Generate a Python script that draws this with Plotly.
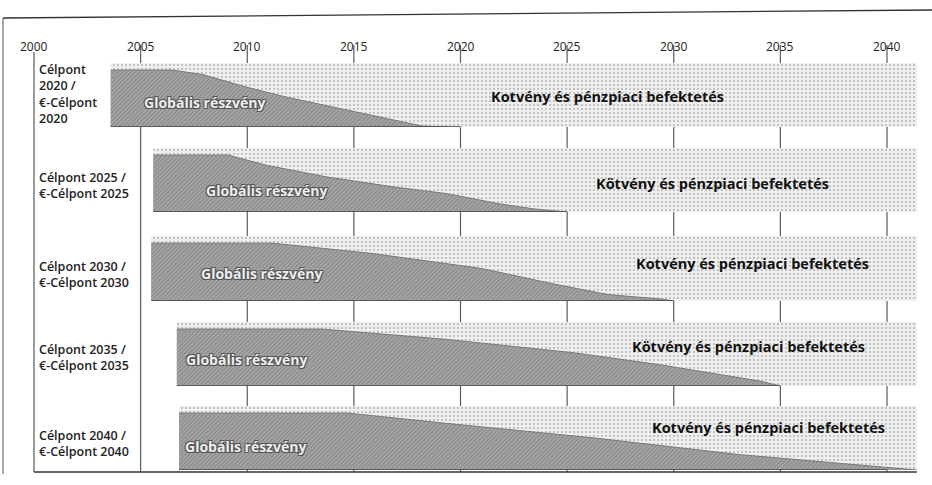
import plotly.graph_objects as go

# ---------------------------------------------------------------- data
axis_years = [2000, 2005, 2010, 2015, 2020, 2025, 2030, 2035, 2040]

target_years = [2020, 2025, 2030, 2035, 2040]
fund_labels = [
    "Célpont<br>2020 /<br>€-Célpont<br>2020",
    "Célpont 2025 /<br>€-Célpont 2025",
    "Célpont 2030 /<br>€-Célpont 2030",
    "Célpont 2035 /<br>€-Célpont 2035",
    "Célpont 2040 /<br>€-Célpont 2040",
]
start_years = [2003.6, 2005.6, 2005.5, 2006.7, 2006.8]
horizon_end = 2041.4

# equity share (%) of each fund along its glide path
glide_years_2020 = [2003.6, 2006.5, 2007.9, 2010.0, 2011.8, 2014.2, 2016.6, 2018.2, 2019.5]
glide_equity_2020 = [89, 89, 82, 62, 47, 30, 12, 1.5, 0]
glide_years_2025 = [2005.6, 2009.1, 2010.9, 2013.7, 2016.9, 2019.3, 2021.8, 2023.4, 2025.0]
glide_equity_2025 = [89, 89, 73, 55, 39, 29, 13, 5, 0]
glide_years_2030 = [2005.5, 2011.2, 2015.9, 2021.0, 2024.4, 2026.9, 2029.4, 2030.0]
glide_equity_2030 = [89, 89, 73, 50, 26, 10, 3, 0]
glide_years_2035 = [2006.7, 2013.5, 2019.3, 2025.3, 2029.2, 2032.1, 2034.0, 2035.0]
glide_equity_2035 = [89, 89, 73, 52, 34, 18, 8, 0]
glide_years_2040 = [2006.8, 2014.7, 2019.3, 2026.3, 2033.1, 2037.9, 2040.2, 2041.4]
glide_equity_2040 = [89, 89, 73, 50, 24, 10, 4, 0]

glide_years = [glide_years_2020, glide_years_2025, glide_years_2030,
               glide_years_2035, glide_years_2040]
glide_equity = [glide_equity_2020, glide_equity_2025, glide_equity_2030,
                glide_equity_2035, glide_equity_2040]

equity_text = "Globális részvény"
bond_texts = [
    "Kotvény és pénzpiaci befektetés",
    "Kötvény és pénzpiaci befektetés",
    "Kotvény és pénzpiaci befektetés",
    "Kötvény és pénzpiaci befektetés",
    "Kotvény és pénzpiaci befektetés",
]

# ---------------------------------------------------------------- layout constants
W, H = 932, 485
X_RANGE = [1998.406, 2042.11]          # year axis spanning the full width
BAND_PX = [(63, 127), (148, 212), (236, 301), (322, 386), (406, 470)]
LABEL_CENTER_PX = [94, 186, 274, 357, 443]
EQ_LABEL_POS = [(2008.0, 38), (2010.9, 34), (2010.65, 43), (2009.96, 42), (2009.9, 37)]
BOND_LABEL_POS = [(2026.9, 47), (2031.8, 44), (2033.7, 58), (2033.5, 61), (2034.45, 66)]
GRID_BOTTOM_PX = 472

FONT = "Open Sans"
INK = "#222222"
GRID = "#5a5a5a"


def py(px):
    """pixel row -> paper fraction"""
    return 1 - px / H


def pxx(px):
    return px / W


fig = go.Figure()
layout_axes = {}
annotations = []
shapes = []

# year gridlines: drawn only in the open space between the bands
for yr in axis_years:
    top = 52 if yr == axis_years[0] else 45
    covered = sorted((t, b) for (t, b), s in zip(BAND_PX, start_years)
                     if s <= yr <= horizon_end)
    segments, cur = [], top
    for t, b in covered:
        if t > cur:
            segments.append((cur, t))
        cur = max(cur, b)
    if cur < GRID_BOTTOM_PX:
        segments.append((cur, GRID_BOTTOM_PX))
    for a, b in segments:
        shapes.append(dict(
            type="line", xref="x", yref="paper", x0=yr, x1=yr,
            y0=py(b), y1=py(a), line=dict(color=GRID, width=1.2),
        ))
    annotations.append(dict(
        xref="x", yref="paper", x=yr, y=py(36), showarrow=False,
        text=str(yr), font=dict(family=FONT, size=12, color=INK),
    ))

for i, (top, bot) in enumerate(BAND_PX):
    yname = "y" if i == 0 else f"y{i + 1}"
    lname = "yaxis" if i == 0 else f"yaxis{i + 1}"
    layout_axes[lname] = dict(
        domain=[py(bot), py(top)], range=[0, 100], visible=False,
        fixedrange=True,
    )

    # bond / money-market band: solid base plus stipple
    fig.add_trace(go.Scatter(
        x=[start_years[i], horizon_end], y=[100, 100], yaxis=yname,
        mode="lines", line=dict(width=0, color="rgba(0,0,0,0)"),
        fill="tozeroy", fillcolor="#efefef",
        hoverinfo="skip", showlegend=False,
    ))
    fig.add_trace(go.Scatter(
        x=[start_years[i], horizon_end], y=[100, 100], yaxis=yname,
        mode="lines", line=dict(width=0, color="rgba(0,0,0,0)"),
        fill="tozeroy",
        fillpattern=dict(shape=".", bgcolor="#efefef", fgcolor="#777777",
                         size=4, solidity=0.2),
        hoverinfo="skip", showlegend=False,
    ))
    # global equity share: solid base plus hatching
    fig.add_trace(go.Scatter(
        x=glide_years[i], y=glide_equity[i], yaxis=yname,
        mode="lines", line=dict(width=0, color="rgba(0,0,0,0)"),
        fill="tozeroy", fillcolor="#a8a8a8",
        hoverinfo="skip", showlegend=False,
    ))
    fig.add_trace(go.Scatter(
        x=glide_years[i], y=glide_equity[i], yaxis=yname,
        mode="lines", line=dict(width=1, color="#7a7a7a"),
        fill="tozeroy",
        fillpattern=dict(shape="/", bgcolor="#a8a8a8", fgcolor="#6a6a6a",
                         size=3, solidity=0.45),
        hoverinfo="skip", showlegend=False,
    ))
    # base line of each fund up to its target date
    fig.add_trace(go.Scatter(
        x=[start_years[i], target_years[i]], y=[0, 0], yaxis=yname,
        mode="lines", line=dict(width=1.6, color="#454545"),
        hoverinfo="skip", showlegend=False, cliponaxis=False,
    ))

    annotations.append(dict(
        xref="paper", yref="paper", x=pxx(37), y=py(LABEL_CENTER_PX[i]),
        xanchor="left", yanchor="middle", align="left", showarrow=False,
        text=fund_labels[i],
        font=dict(family=FONT, size=12.5, color=INK, weight=600),
    ))
    ex, ey = EQ_LABEL_POS[i]
    annotations.append(dict(
        xref="x", yref=yname, x=ex, y=ey, showarrow=False,
        text=equity_text,
        font=dict(family=FONT, size=14, color="#eeeeee", weight=700,
                  shadow="1px 1px 0 #555, -1px -1px 0 #555, 1px -1px 0 #555, -1px 1px 0 #555"),
    ))
    bx, by = BOND_LABEL_POS[i]
    annotations.append(dict(
        xref="x", yref=yname, x=bx, y=by, showarrow=False,
        text=bond_texts[i],
        font=dict(family=FONT, size=14.5, color="#111111", weight=700),
    ))

# frame: top rule, left edge, bottom rule
shapes += [
    dict(type="line", xref="paper", yref="paper", x0=pxx(3), x1=pxx(932),
         y0=py(18), y1=py(10), line=dict(color="#333", width=1.3)),
    dict(type="line", xref="paper", yref="paper", x0=pxx(3), x1=pxx(3),
         y0=py(18), y1=py(474), line=dict(color="#555", width=1)),
    dict(type="line", xref="x", yref="paper",
         x0=axis_years[0], x1=horizon_end,
         y0=py(GRID_BOTTOM_PX), y1=py(GRID_BOTTOM_PX),
         line=dict(color="#333", width=1.4)),
]

fig.update_layout(
    width=W, height=H,
    margin=dict(l=0, r=0, t=0, b=0),
    paper_bgcolor="white", plot_bgcolor="rgba(0,0,0,0)",
    xaxis=dict(range=X_RANGE, visible=False, fixedrange=True),
    annotations=annotations, shapes=shapes,
    showlegend=False,
    **layout_axes,
)

fig.write_html("out.html", config={"displayModeBar": False})
